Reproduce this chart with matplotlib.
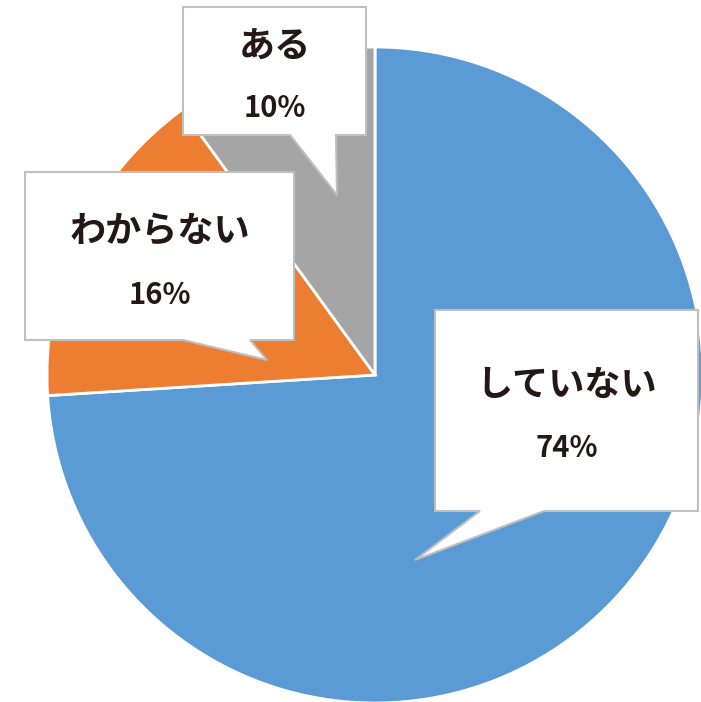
import matplotlib
matplotlib.use("Agg")
import matplotlib.pyplot as plt
from matplotlib.patches import Polygon

plt.rcParams['font.family'] = ['Noto Sans CJK JP', 'DejaVu Sans']

labels = ['していない', 'わからない', 'ある']
values = [74, 16, 10]
colors = ['#5B9BD5', '#ED7D31', '#A5A5A5']

W, H = 701, 702
fig = plt.figure(figsize=(W / 100, H / 100), dpi=100)
ax = fig.add_axes([0, 0, 1, 1])

# pie in pixel coordinates (y measured from the top of the image)
cx, cy, r = 375, 375, 328
ax.pie(values, colors=colors, startangle=90, counterclock=False,
       center=(cx, H - cy), radius=r,
       wedgeprops=dict(edgecolor='white', linewidth=2))

# callout boxes: (left, top, right, bottom, pointer base x1, x2, tip x, tip y)
callouts = {
    'していない': (435, 310, 698, 511, 480, 544, 415, 560),
    'わからない': (25, 172, 294, 340, 183, 250, 267, 360),
    'ある': (183, 7, 366, 135, 290, 336, 337, 195),
}
label_dy = {'していない': (385, 448), 'わからない': (232, 295), 'ある': (47, 108)}

for lab, val in zip(labels, values):
    l, t, rr, b, p1, p2, tx, ty = callouts[lab]
    pts = [(l, t), (rr, t), (rr, b), (max(p1, p2), b), (tx, ty),
           (min(p1, p2), b), (l, b)]
    pts = [(x, H - y) for x, y in pts]
    ax.add_patch(Polygon(pts, closed=True, facecolor='white',
                         edgecolor='#BFBFBF', linewidth=1.5, zorder=5))
    xc = (l + rr) / 2
    y1, y2 = label_dy[lab]
    ax.text(xc, H - y1, lab, ha='center', va='center', fontsize=26,
            fontweight='bold', color='#231815', zorder=6)
    ax.text(xc, H - y2, f'{val}%', ha='center', va='center', fontsize=21,
            fontweight='bold', color='#231815', zorder=6)

ax.set_xlim(0, W)
ax.set_ylim(0, H)
ax.set_aspect('auto')
ax.axis('off')

fig.savefig('out.png', dpi=100, facecolor='white')
